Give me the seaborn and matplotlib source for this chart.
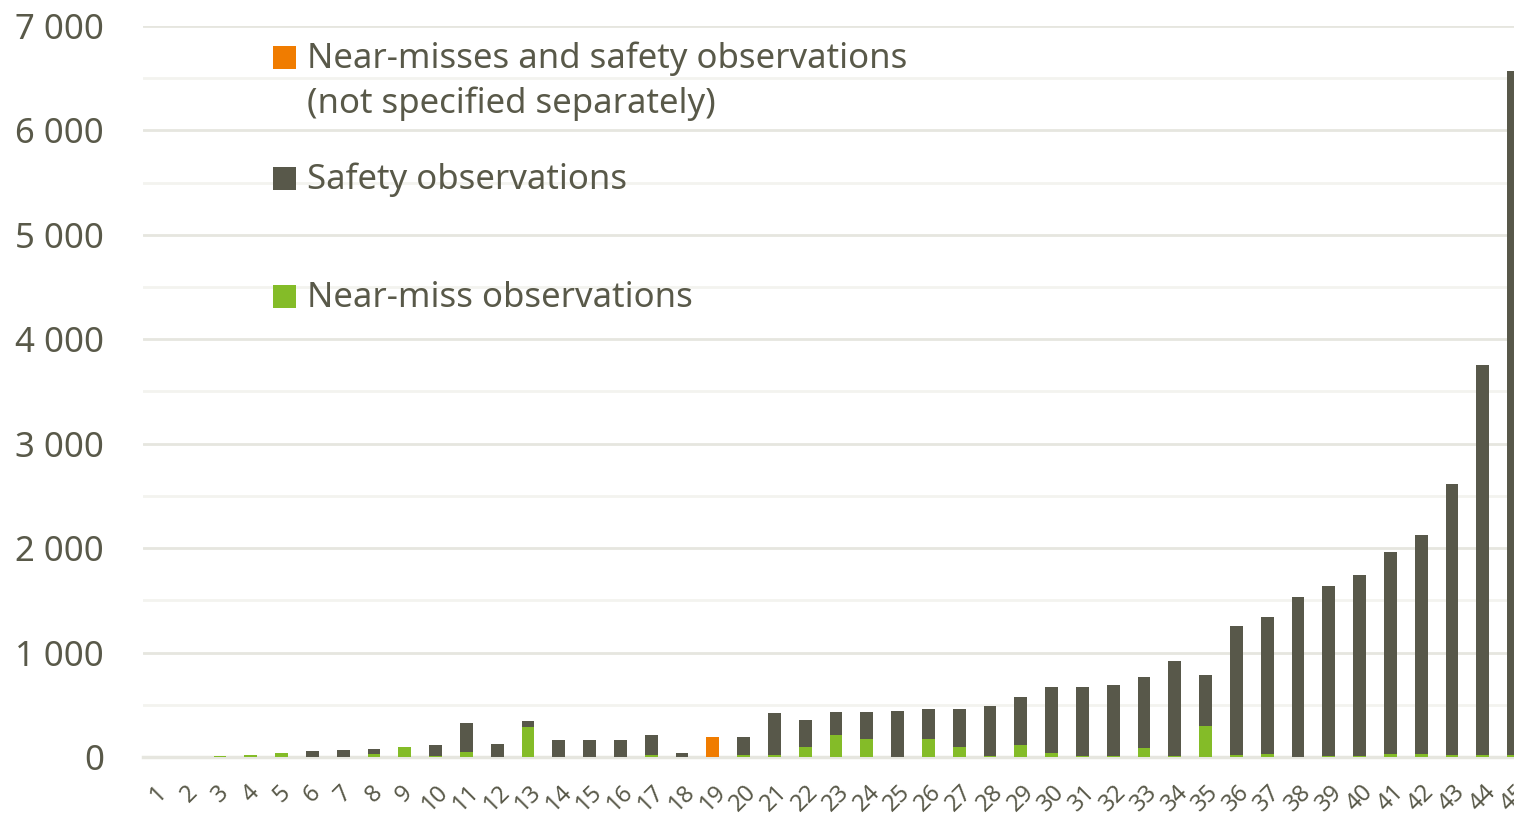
import numpy as np
import pandas as pd
import matplotlib
matplotlib.use("Agg")
import matplotlib.pyplot as plt
import seaborn as sns
from matplotlib.patches import Rectangle

# data
categories = [str(i) for i in range(1, 46)]
near_miss = [2, 4, 12, 20, 40, 0, 0, 30, 95, 10,
             50, 0, 290, 0, 0, 0, 15, 0, 0, 15,
             15, 100, 208, 175, 0, 170, 93, 5, 112, 35,
             10, 8, 87, 5, 295, 15, 25, 0, 10, 5,
             25, 30, 15, 20, 15]
safety = [0, 0, 0, 0, 0, 55, 70, 45, 0, 105,
          275, 125, 53, 160, 160, 160, 195, 35, 0, 180,
          405, 250, 220, 253, 438, 285, 367, 480, 461, 633,
          665, 677, 679, 915, 495, 1235, 1315, 1535, 1625, 1735,
          1940, 2095, 2595, 3735, 6557]
unspecified = [0] * 45
unspecified[18] = 190

y_ticks = [0, 1000, 2000, 3000, 4000, 5000, 6000, 7000]
y_tick_labels = ["0", "1 000", "2 000", "3 000", "4 000", "5 000", "6 000", "7 000"]

legend_labels = ["Near-misses and safety observations\n(not specified separately)",
                 "Safety observations",
                 "Near-miss observations"]

c_orange = "#F07C00"
c_dark = "#58584A"
c_green = "#84BC28"
c_text = "#595949"
c_grid = "#E6E6DF"
c_minor = "#F3F3EF"

df = pd.DataFrame({"cat": categories, "nm": near_miss, "so": safety, "un": unspecified})
df["nm_so"] = df["nm"] + df["so"]
df["total"] = df["nm_so"] + df["un"]

sns.set_style("white")
plt.rcParams["font.family"] = ["Noto Sans", "DejaVu Sans"]

fig = plt.figure(figsize=(15.14, 8.18), dpi=100)
ax = fig.add_axes([143 / 1514, 61 / 818, 1386 / 1514, (757 - 26) / 818])

bw = 0.41
kw = dict(width=bw, ax=ax, saturation=1, linewidth=0, zorder=3)
sns.barplot(data=df, x="cat", y="total", color=c_orange, **kw)
sns.barplot(data=df, x="cat", y="nm_so", color=c_dark, **kw)
sns.barplot(data=df, x="cat", y="nm", color=c_green, **kw)

ax.set_xlim(-0.5, 44.5)
ax.set_ylim(0, 7000)
ax.set_xlabel("")
ax.set_ylabel("")

# grid
ax.set_yticks(y_ticks)
ax.set_yticklabels(y_tick_labels)
ax.set_yticks(np.arange(500, 7000, 1000), minor=True)
ax.grid(axis="y", which="major", color=c_grid, linewidth=2, zorder=0)
ax.grid(axis="y", which="minor", color=c_minor, linewidth=2, zorder=0)
ax.grid(axis="x", visible=False)

for s in ["top", "right", "left"]:
    ax.spines[s].set_visible(False)
ax.spines["bottom"].set_color(c_grid)
ax.spines["bottom"].set_linewidth(2.5)

ax.tick_params(axis="y", which="both", length=0, pad=28, labelsize=25, labelcolor=c_text)
ax.tick_params(axis="x", which="major", length=0, pad=17, labelsize=17, labelcolor=c_text)
ax.set_xticks(range(45))
ax.set_xticklabels(categories, rotation=45, ha="center", va="top")
ax.set_xticks(np.arange(-0.5, 45, 1), minor=True)
ax.tick_params(axis="x", which="minor", direction="inout", length=14.5, width=1.5, color=c_grid)

# legend drawn by hand, Excel style
leg = [(c_orange, 57, legend_labels[0]), (c_dark, 178, legend_labels[1]), (c_green, 297, legend_labels[2])]
for col, ypx, lab in leg:
    fig.patches.append(Rectangle((273 / 1514, 1 - (ypx + 11.5) / 818), 23 / 1514, 23 / 818,
                                 transform=fig.transFigure, facecolor=col, edgecolor="none"))
    fig.text(307 / 1514, 1 - (ypx - 16) / 818, lab, fontsize=25, color=c_text,
             va="top", ha="left", linespacing=1.42)

fig.savefig("out.png", dpi=100)
